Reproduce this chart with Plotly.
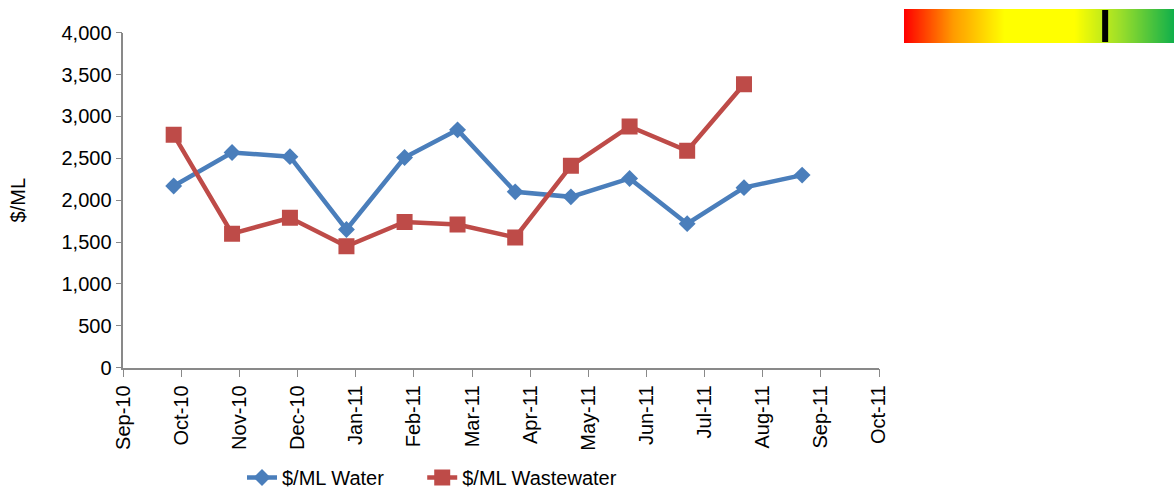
import calendar
import plotly.graph_objects as go

# reporting periods (date of each reading)
periods = ["2010-09-27", "2010-10-28", "2010-11-27", "2010-12-27", "2011-01-27", "2011-02-22",
           "2011-03-24", "2011-04-22", "2011-05-23", "2011-06-22", "2011-07-22", "2011-08-22"]
water = [2170, 2570, 2520, 1650, 2510, 2840, 2100, 2040, 2260, 1720, 2150, 2300]
wastewater = [2780, 1600, 1790, 1450, 1740, 1710, 1555, 2410, 2880, 2590, 3385]

month_labels = ["Sep-10", "Oct-10", "Nov-10", "Dec-10", "Jan-11", "Feb-11", "Mar-11",
                "Apr-11", "May-11", "Jun-11", "Jul-11", "Aug-11", "Sep-11", "Oct-11"]

# traffic light gauge
gauge_colors = ["#FF0000", "#FF9A00", "#FFFF00", "#FFFF00", "#9BDE2A", "#0FAF4B"]
gauge_stops = [0.0, 0.18, 0.37, 0.63, 0.80, 1.0]
gauge_value = 0.745

W, H = 1174, 497


def month_pos(d):
    # Excel-style month axis: every month gets the same width
    y, m, day = (int(p) for p in d.split("-"))
    ndays = calendar.monthrange(y, m)[1]
    return (y - 2010) * 12 + (m - 9) + (day - 1) / ndays


xs = [month_pos(d) for d in periods]
font = "Liberation Sans, Arial, sans-serif"
pad = "\u00a0" * 6  # widen the gap between legend entries like Excel

fig = go.Figure()
fig.add_trace(go.Scatter(
    x=xs, y=water, name="$/ML Water" + pad, mode="lines+markers",
    line=dict(color="#4A7EBB", width=4.5),
    marker=dict(symbol="diamond", size=13, color="#4A7EBB"),
))
fig.add_trace(go.Scatter(
    x=xs[:len(wastewater)], y=wastewater, name="$/ML Wastewater", mode="lines+markers",
    line=dict(color="#BE4B48", width=4.5),
    marker=dict(symbol="square", size=16, color="#BE4B48"),
))

# gauge bar + needle
fig.add_trace(go.Heatmap(
    z=[[0, 1]], x=[0, 1], y=[0.5], zsmooth="best", zmin=0, zmax=1,
    colorscale=[[s, c] for s, c in zip(gauge_stops, gauge_colors)],
    showscale=False, hoverinfo="skip", xaxis="x2", yaxis="y2",
))
fig.add_trace(go.Scatter(
    x=[gauge_value, gauge_value], y=[0.03, 0.97], mode="lines",
    line=dict(color="black", width=6), showlegend=False, hoverinfo="skip",
    xaxis="x2", yaxis="y2",
))

axcol = "#898989"
fig.update_layout(
    width=W, height=H,
    margin=dict(l=0, r=0, t=0, b=0, pad=0),
    paper_bgcolor="white", plot_bgcolor="white",
    font=dict(family=font, size=20, color="black"),
    xaxis=dict(
        domain=[123.3 / W, 879 / W], range=[0, len(month_labels) - 1],
        tickvals=list(range(len(month_labels))), ticktext=month_labels,
        tickangle=-90, ticks="outside", ticklen=8, tickcolor=axcol,
        showline=True, linecolor=axcol, linewidth=1.5,
        showgrid=False, zeroline=False, automargin=False,
    ),
    yaxis=dict(
        domain=[1 - 367.7 / H, 1 - 32.7 / H], range=[0, 4000], dtick=500,
        tickformat=",", ticks="outside", ticklen=6, tickcolor=axcol,
        showline=True, linecolor=axcol, linewidth=1.5,
        showgrid=False, zeroline=False, automargin=False,
        title=dict(text="$/ML", font=dict(size=20), standoff=30),
    ),
    xaxis2=dict(domain=[904 / W, 1.0], range=[0, 1], visible=False, fixedrange=True),
    yaxis2=dict(domain=[1 - 43 / H, 1 - 9 / H], range=[0, 1], visible=False, fixedrange=True),
    legend=dict(
        orientation="h", x=242 / W, xanchor="left", y=0, yanchor="bottom",
        font=dict(size=20), bgcolor="rgba(0,0,0,0)",
    ),
    showlegend=True,
)

# drop the default page margin so the figure sits at the window origin
fig.write_html("out.html", config={"displayModeBar": False},
               post_script="document.body.style.margin='0';")
